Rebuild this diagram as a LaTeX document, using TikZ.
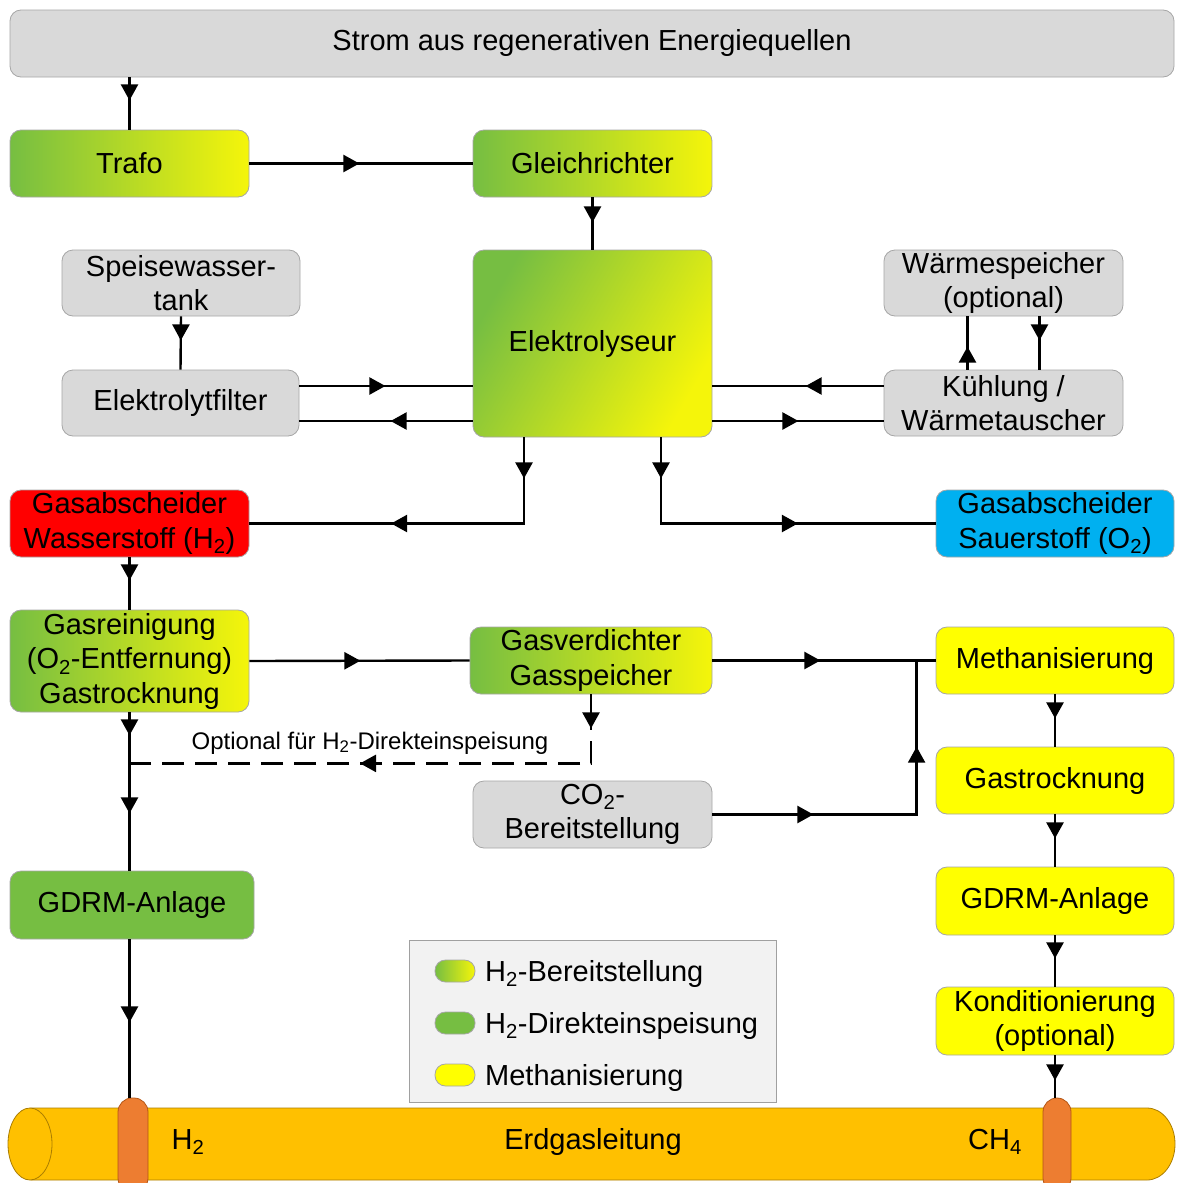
\documentclass[tikz,border=0pt]{standalone}
\usepackage{fontspec}
\setmainfont{Liberation Sans}
\usetikzlibrary{arrows.meta,decorations.markings}

\definecolor{gbox}{RGB}{217,217,217}
\definecolor{gline}{RGB}{160,160,160}
\definecolor{grn}{RGB}{118,190,66}
\definecolor{ylwG}{RGB}{245,245,10}
\definecolor{ylw}{RGB}{255,255,0}
\definecolor{red1}{RGB}{255,0,0}
\definecolor{blu}{RGB}{0,176,240}
\definecolor{pipe}{RGB}{255,192,0}
\definecolor{pipeD}{RGB}{170,125,0}
\definecolor{band}{RGB}{237,125,49}
\definecolor{bandD}{RGB}{180,85,20}
\definecolor{leg}{RGB}{242,242,242}

\begin{document}
\begin{tikzpicture}[x=1pt,y=-1pt,
  wh/.style 2 args={minimum width=#1pt, minimum height=#2pt},
  box/.style={draw=black!35, line width=0.8pt, rounded corners=11pt, align=center,
    inner sep=0pt, font=\fontsize{29}{34.5}\selectfont},
  greybox/.style={box, fill=gbox},
  grad/.style={box, left color=grn, right color=ylwG},
  ybox/.style={box, fill=ylw},
  gbox2/.style={box, fill=grn},
  pill/.style={draw=black!35, line width=0.8pt, rounded corners=10.5pt, wh={40}{22}, inner sep=0pt},
  lbl/.style={font=\fontsize{29}{34.5}\selectfont, inner sep=0pt},
  flow/.style={line width=2.4pt},
  arrat/.style={postaction={decorate,decoration={markings,
      mark=at position #1 with {\arrow{Triangle[length=16pt,width=17pt]}}}}},
  dashpat/.style={dash pattern=on 22pt off 11pt, dash phase=22pt},
]
\useasboundingbox (0,0) rectangle (1176,1183);
\fill[white] (0,0) rectangle (1176,1183);
\clip (0,0) rectangle (1176,1183);

% ---------- boxes ----------
\node[greybox, wh={1164}{67}] (strom) at (592,43.5) {Strom aus regenerativen Energiequellen};
\node[grad, wh={239}{67}] (trafo) at (129.5,163.5) {Trafo};
\node[grad, wh={239}{67}] (gleich) at (592.5,163.5) {Gleichrichter};
\node[greybox, wh={238}{66}] (speise) at (181,283) {Speisewasser-\\tank};
\node[grad, shading angle=60, wh={239}{187}] (elektro) at (592.5,343.5) {Elektrolyseur};
\node[greybox, wh={239}{66}] (waerme) at (1003.5,283) {Wärmespeicher\\(optional)};
\node[greybox, wh={237}{66}] (filter) at (180.5,403) {Elektrolytfilter};
\node[greybox, wh={239}{66}] (kuehl) at (1003.5,403) {Kühlung /\\Wärmetauscher};
\node[box, fill=red1, wh={239}{67}] (gah2) at (129.5,523.5) {Gasabscheider\\Wasserstoff (H\textsubscript{2})};
\node[box, fill=blu, wh={238}{67}] (gao2) at (1055,523.5) {Gasabscheider\\Sauerstoff (O\textsubscript{2})};
\node[grad, wh={239}{102}] (rein) at (129.5,661) {Gasreinigung\\(O\textsubscript{2}-Entfernung)\\Gastrocknung};
\node[grad, wh={242}{67}] (verd) at (591,660.5) {Gasverdichter\\Gasspeicher};
\node[ybox, wh={238}{67}] (meth) at (1055,660.5) {Methanisierung};
\node[greybox, wh={239}{67}] (co2) at (592.5,814.5) {CO\textsubscript{2}-\\Bereitstellung};
\node[ybox, wh={238}{67}] (trock) at (1055,780.5) {Gastrocknung};
\node[gbox2, wh={244}{68}] (gdrml) at (132,905) {GDRM-Anlage};
\node[ybox, wh={238}{68}] (gdrmr) at (1055,901) {GDRM-Anlage};
\node[ybox, wh={238}{68}] (kond) at (1055,1021) {Konditionierung\\(optional)};

% ---------- legend ----------
\node[draw=gline, fill=leg, line width=0.8pt, wh={367}{162}, inner sep=0pt] (legend) at (592.5,1021) {};
\node[pill, left color=grn, right color=ylwG] (p1) at (455,971) {};
\node[pill, fill=grn] (p2) at (455,1023) {};
\node[pill, fill=ylw] (p3) at (455,1075) {};
\node[lbl, anchor=base west] (t1) at (485,981) {H\textsubscript{2}-Bereitstellung};
\node[lbl, anchor=base west] (t2) at (485,1033) {H\textsubscript{2}-Direkteinspeisung};
\node[lbl, anchor=base west] (t3) at (485,1085) {Methanisierung};

% ---------- pipeline ----------
\draw[fill=pipe, draw=pipeD, line width=0.8pt] (31,1108) -- (1147,1108)
  arc[start angle=90, end angle=-90, x radius=28pt, y radius=36pt] -- (31,1180) -- cycle;
\draw[fill=pipe, draw=pipeD, line width=0.8pt] (30,1144) ellipse [x radius=22pt, y radius=36pt];
\node[draw=bandD, fill=band, line width=0.8pt, rounded corners=14pt, wh={30}{94}, inner sep=0pt] (bandL) at (133,1145) {};
\node[draw=bandD, fill=band, line width=0.8pt, rounded corners=14pt, wh={28}{94}, inner sep=0pt] (bandR) at (1057,1145) {};
\node[lbl] (h2t) at (188,1142) {H\textsubscript{2}};
\node[lbl] (erd) at (593,1142) {Erdgasleitung};
\node[lbl] (ch4) at (995,1142) {CH\textsubscript{4}};

% ---------- helper coordinates ----------
\coordinate (fA) at ([yshift=17pt]filter.east);
\coordinate (fB) at ([yshift=-18pt]filter.east);
\coordinate (kA) at ([yshift=17pt]kuehl.west);
\coordinate (kB) at ([yshift=-18pt]kuehl.west);
\coordinate (wA) at ([xshift=-36pt]kuehl.north);
\coordinate (wB) at ([xshift=36pt]waerme.south);
\coordinate (eA) at ([xshift=-68.5pt]elektro.south);
\coordinate (eB) at ([xshift=68.5pt]elektro.south);
\coordinate (dk) at ([yshift=-36pt]verd.south);
\coordinate (dc) at ([yshift=-33pt]dk);
\coordinate (dj) at (dc -| rein.south);
\coordinate (mj) at ([xshift=-19pt]meth.west);

% ---------- connectors ----------
\draw[flow, arrat=23pt] (strom.south -| trafo.north) -- (trafo.north);
\draw[flow, arrat=110pt] (trafo.east) -- (gleich.west);
\draw[flow, arrat=25pt] (gleich.south) -- (elektro.north);
\draw[flow, arrat=24pt] (speise.south) -- (filter.north);
\draw[flow, arrat=86pt] (fA) -- (fA -| elektro.west);
\draw[flow, arrat=82pt] (fB -| elektro.west) -- (fB);
\draw[flow, arrat=78pt] (kA) -- (kA -| elektro.east);
\draw[flow, arrat=86pt] (kB -| elektro.east) -- (kB);
\draw[flow, arrat=23pt] (wA) -- (wA |- waerme.south);
\draw[flow, arrat=24pt] (wB) -- (wB |- kuehl.north);
\draw[flow, arrat=41pt, arrat=219pt] (eA) |- (gah2.east);
\draw[flow, arrat=41pt, arrat=223pt] (eB) |- (gao2.west);
\draw[flow, arrat=23pt] (gah2.south) -- (rein.north);
\draw[flow, arrat=111pt] (rein.east) -- (verd.west);
\draw[flow, arrat=108pt] (verd.east) -- (meth.west);
\draw[flow, arrat=34pt] (verd.south) -- (dk);
\draw[flow, dashpat, arrat=264pt] (dk) -- (dc) -- (dj);
\node[font=\fontsize{24}{28}\selectfont, inner sep=0pt] (optl) at (370,743) {Optional für H\textsubscript{2}-Direkteinspeisung};
\draw[flow, arrat=23pt, arrat=101pt] (rein.south) -- (rein.south |- gdrml.north);
\draw[flow, arrat=83pt] (rein.south |- gdrml.south) -- (rein.south |- bandL.north);
\draw[flow, arrat=101pt, arrat=272pt] (co2.east) -| (mj);
\draw[flow, arrat=24pt] (meth.south) -- (trock.north);
\draw[flow, arrat=24pt] (trock.south) -- (gdrmr.north);
\draw[flow, arrat=23pt] (gdrmr.south) -- (kond.north);
\draw[flow, arrat=25pt] (kond.south) -- (kond.south |- bandR.north);
\end{tikzpicture}
\end{document}
